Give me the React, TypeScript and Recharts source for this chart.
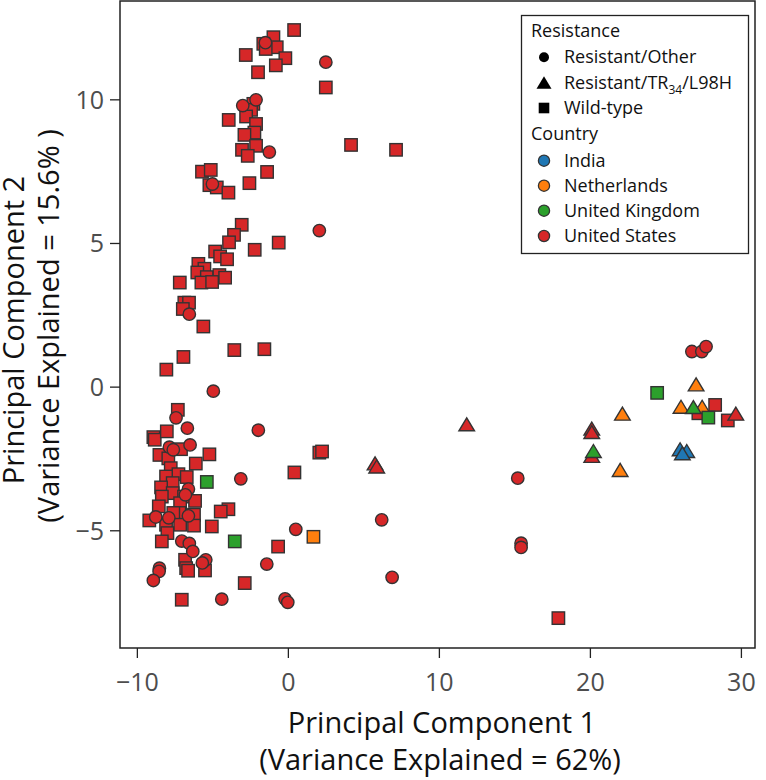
import React from 'react';
import { ScatterChart, Scatter, XAxis, YAxis, ReferenceArea } from 'recharts';

if (typeof document !== 'undefined') document.body.style.margin = '0';

const FONT = '"Open Sans", "DejaVu Sans", sans-serif';

// colours per country
const COLORS = {
  india: '#1f77b4',
  netherlands: '#ff7f0e',
  uk: '#2ca02c',
  us: '#d62728',
};

const xTicks = [-10, 0, 10, 20, 30];
const yTicks = [-5, 0, 5, 10];

// United States, wild-type (squares)
const usSquares = [
  { x: 0.38, y: 12.43 }, { x: -0.99, y: 12.18 }, { x: -1.66, y: 11.95 }, { x: -0.77, y: 11.83 },
  { x: -1.5, y: 11.77 }, { x: -2.82, y: 11.56 }, { x: -0.2, y: 11.45 }, { x: -0.83, y: 11.2 },
  { x: -2.01, y: 10.96 }, { x: 2.48, y: 10.43 }, { x: -2.32, y: 9.86 }, { x: -2.47, y: 9.65 },
  { x: -2.8, y: 9.42 }, { x: -3.95, y: 9.3 }, { x: -2.14, y: 9.16 }, { x: -2.25, y: 8.86 },
  { x: -2.91, y: 8.78 }, { x: -2.14, y: 8.4 }, { x: -3.07, y: 8.26 }, { x: -2.69, y: 8.05 },
  { x: -1.41, y: 7.49 }, { x: -5.72, y: 7.5 }, { x: -5.14, y: 7.56 }, { x: -5.23, y: 7.03 },
  { x: -4.74, y: 6.95 }, { x: -2.58, y: 7.1 }, { x: -3.97, y: 6.77 }, { x: 4.15, y: 8.43 },
  { x: 7.13, y: 8.26 },
  { x: -3.09, y: 5.65 }, { x: -3.6, y: 5.3 }, { x: -3.93, y: 5.04 }, { x: -2.23, y: 4.78 },
  { x: -0.64, y: 5.03 }, { x: -4.85, y: 4.72 }, { x: -4.52, y: 4.55 }, { x: -4.06, y: 4.45 },
  { x: -5.96, y: 4.29 }, { x: -5.56, y: 4.12 }, { x: -6.03, y: 3.99 }, { x: -5.4, y: 3.83 },
  { x: -4.57, y: 3.9 }, { x: -4.19, y: 3.81 }, { x: -5.76, y: 3.64 }, { x: -5.05, y: 3.66 },
  { x: -7.19, y: 3.64 }, { x: -6.89, y: 2.94 }, { x: -6.58, y: 2.94 }, { x: -6.99, y: 2.72 },
  { x: -5.63, y: 2.11 }, { x: -3.58, y: 1.29 }, { x: -1.59, y: 1.32 }, { x: -6.95, y: 1.05 },
  { x: -8.08, y: 0.61 },
  { x: -7.32, y: -0.79 }, { x: -8.94, y: -1.74 }, { x: -8.85, y: -1.83 }, { x: -8.05, y: -1.54 },
  { x: -7.11, y: -2.16 }, { x: -8.54, y: -2.36 }, { x: -7.95, y: -2.48 }, { x: -5.23, y: -2.34 },
  { x: 2.05, y: -2.28 }, { x: 2.23, y: -2.24 }, { x: -6.13, y: -2.66 }, { x: -7.79, y: -2.82 },
  { x: 0.4, y: -2.97 }, { x: -7.28, y: -3.03 }, { x: -8.1, y: -3.11 }, { x: -6.73, y: -3.13 },
  { x: -7.66, y: -3.34 }, { x: -8.43, y: -3.49 }, { x: -7.66, y: -3.69 }, { x: -8.38, y: -3.81 },
  { x: -6.91, y: -3.81 }, { x: -6.18, y: -3.96 }, { x: -8.58, y: -4.15 }, { x: -7.17, y: -4.04 },
  { x: -3.97, y: -4.25 }, { x: -4.48, y: -4.33 }, { x: -9.21, y: -4.64 }, { x: -7.22, y: -4.38 },
  { x: -7.62, y: -4.38 }, { x: -6.25, y: -4.44 }, { x: -8.1, y: -4.79 }, { x: -7.17, y: -4.79 },
  { x: -6.25, y: -4.82 }, { x: -5.07, y: -4.85 }, { x: -8.01, y: -5.08 }, { x: -8.38, y: -5.37 },
  { x: -0.68, y: -5.55 }, { x: -6.84, y: -6.01 }, { x: -6.77, y: -6.3 }, { x: -6.64, y: -6.39 },
  { x: -5.52, y: -6.38 }, { x: -2.89, y: -6.82 }, { x: -7.06, y: -7.4 }, { x: 17.88, y: -8.04 },
  { x: 28.26, y: -0.62 }, { x: 27.15, y: -0.91 }, { x: 29.1, y: -1.16 },
];

// United States, resistant/other (circles)
const usCircles = [
  { x: -1.52, y: 11.99 }, { x: 2.48, y: 11.31 }, { x: -2.14, y: 10.0 }, { x: -3.02, y: 9.8 },
  { x: -1.26, y: 8.18 }, { x: -5.03, y: 7.07 }, { x: 2.05, y: 5.45 }, { x: -6.56, y: 2.54 },
  { x: -4.97, y: -0.14 }, { x: -7.44, y: -1.07 }, { x: -6.69, y: -1.43 }, { x: -1.99, y: -1.5 },
  { x: -7.88, y: -2.09 }, { x: -6.51, y: -2.01 }, { x: -7.62, y: -2.18 }, { x: -3.15, y: -3.19 },
  { x: -6.62, y: -3.55 }, { x: -6.82, y: -3.75 }, { x: -8.78, y: -4.52 }, { x: -7.92, y: -4.55 },
  { x: -6.62, y: -4.48 }, { x: 0.49, y: -4.95 }, { x: -7.06, y: -5.36 }, { x: -6.56, y: -5.44 },
  { x: -6.33, y: -5.72 }, { x: -5.47, y: -6.01 }, { x: -5.7, y: -6.12 }, { x: -1.43, y: -6.16 },
  { x: -8.54, y: -6.3 }, { x: -8.56, y: -6.41 }, { x: -8.94, y: -6.73 }, { x: -4.41, y: -7.38 },
  { x: -0.22, y: -7.37 }, { x: -0.04, y: -7.49 }, { x: 6.18, y: -4.62 }, { x: 15.41, y: -5.43 },
  { x: 15.41, y: -5.58 }, { x: 6.87, y: -6.62 }, { x: 15.19, y: -3.17 }, { x: 26.72, y: 1.24 },
  { x: 27.38, y: 1.24 }, { x: 27.66, y: 1.41 },
];

// United States, TR34/L98H (triangles)
const usTriangles = [
  { x: 11.81, y: -1.31 }, { x: 20.09, y: -1.46 }, { x: 20.09, y: -1.58 }, { x: 20.09, y: -2.41 },
  { x: 5.74, y: -2.67 }, { x: 5.85, y: -2.78 }, { x: 29.63, y: -0.94 },
];

const nlTriangles = [
  { x: 27.0, y: 0.08 }, { x: 26.0, y: -0.7 }, { x: 27.4, y: -0.7 }, { x: 22.12, y: -0.94 },
  { x: 21.97, y: -2.9 },
];
const nlSquares = [{ x: 1.66, y: -5.21 }];

const ukSquares = [
  { x: -5.4, y: -3.3 }, { x: -3.55, y: -5.37 }, { x: 24.42, y: -0.2 }, { x: 27.81, y: -1.06 },
];
const ukTriangles = [{ x: 26.82, y: -0.71 }, { x: 20.2, y: -2.24 }];

const indiaTriangles = [{ x: 25.94, y: -2.18 }, { x: 26.38, y: -2.24 }, { x: 26.09, y: -2.32 }];

const EDGE = '#333';

const makeShape = (kind: string, fill: string) => (props: any) => {
  const { cx, cy } = props;
  if (cx == null || cy == null) return <g />;
  if (kind === 'circle') {
    return <circle cx={cx} cy={cy} r={6.2} fill={fill} stroke={EDGE} strokeWidth={1.4} />;
  }
  if (kind === 'square') {
    return <rect x={cx - 6.2} y={cy - 6.2} width={12.4} height={12.4} fill={fill} stroke={EDGE} strokeWidth={1.4} />;
  }
  return (
    <polygon
      points={`${cx},${cy - 7} ${cx + 7.8},${cy + 6} ${cx - 7.8},${cy + 6}`}
      fill={fill}
      stroke={EDGE}
      strokeWidth={1.4}
      strokeLinejoin="miter"
    />
  );
};

const fmt = (v: number) => (v < 0 ? `\u2212${Math.abs(v)}` : `${v}`);

const tickStyle = { fill: '#4d4d4d', fontSize: 25, fontFamily: FONT };

const Overlay = () => {
  const rowX = 544;
  const textX = 564;
  const base = [63.3, 88.7, 114, 166.7, 191.7, 216.7, 242];
  return (
    <svg
      width={766}
      height={780}
      style={{ position: 'absolute', left: 0, top: 0, pointerEvents: 'none' }}
      fontFamily={FONT}
    >
      {/* axis titles */}
      <text x={442} y={733} textAnchor="middle" fontSize={29} fill="#111">Principal Component 1</text>
      <text x={440} y={770} textAnchor="middle" fontSize={29} fill="#111">(Variance Explained = 62%)</text>
      <text x={24} y={330} textAnchor="middle" fontSize={29} fill="#111" transform="rotate(-90 24 330)">
        Principal Component 2
      </text>
      <text x={59} y={326} textAnchor="middle" fontSize={29} fill="#111" transform="rotate(-90 59 326)">
        (Variance Explained = 15.6% )
      </text>

      {/* legend */}
      <rect x={521.5} y={15.5} width={227} height={238} fill="#fff" stroke="#222" strokeWidth={1.3} />
      <g fontSize={18} fill="#111">
        <text x={531} y={36.7}>Resistance</text>
        <circle cx={rowX} cy={base[0] - 6} r={5} fill="#000" />
        <text x={textX} y={base[0]}>Resistant/Other</text>
        <polygon
          points={`${rowX},${base[1] - 12.5} ${rowX + 7.5},${base[1] + 0} ${rowX - 7.5},${base[1] + 0}`}
          fill="#000"
        />
        <text x={textX} y={base[1]}>
          Resistant/TR<tspan dy={5} fontSize={12}>34</tspan>
          <tspan dy={-5}>/L98H</tspan>
        </text>
        <rect x={rowX - 5.3} y={base[2] - 11.3} width={10.6} height={10.6} fill="#000" />
        <text x={textX} y={base[2]}>Wild-type</text>
        <text x={531} y={139.7}>Country</text>
        {[
          { c: COLORS.india, t: 'India' },
          { c: COLORS.netherlands, t: 'Netherlands' },
          { c: COLORS.uk, t: 'United Kingdom' },
          { c: COLORS.us, t: 'United States' },
        ].map((d, i) => (
          <g key={d.t}>
            <circle cx={rowX} cy={base[3 + i] - 6} r={5.6} fill={d.c} stroke={EDGE} strokeWidth={1.3} />
            <text x={textX} y={base[3 + i]}>{d.t}</text>
          </g>
        ))}
      </g>
    </svg>
  );
};

export default function App() {
  const xDomain: [number, number] = [-11.15, 30.9];
  const yDomain: [number, number] = [-9.08, 13.44];
  return (
    <div style={{ position: 'relative', width: 766, height: 780, background: '#fff' }}>
      <ScatterChart width={766} height={780} margin={{ top: 1, right: 11, bottom: 0, left: 0 }}>
        <XAxis
          type="number"
          dataKey="x"
          domain={xDomain}
          ticks={xTicks}
          allowDataOverflow
          height={132}
          axisLine={false}
          tickSize={10}
          tickMargin={15}
          tickLine={{ stroke: '#222', strokeWidth: 1.3 }}
          tick={tickStyle}
          tickFormatter={fmt}
        />
        <YAxis
          type="number"
          dataKey="y"
          domain={yDomain}
          ticks={yTicks}
          allowDataOverflow
          width={120}
          axisLine={false}
          tickSize={10}
          tickMargin={6}
          tickLine={{ stroke: '#222', strokeWidth: 1.3 }}
          tick={tickStyle}
          tickFormatter={fmt}
        />
        <ReferenceArea
          x1={xDomain[0]}
          x2={xDomain[1]}
          y1={yDomain[0]}
          y2={yDomain[1]}
          fill="none"
          fillOpacity={0}
          stroke="#222"
          strokeWidth={1.5}
        />
        <Scatter data={usSquares} shape={makeShape('square', COLORS.us)} isAnimationActive={false} />
        <Scatter data={usCircles} shape={makeShape('circle', COLORS.us)} isAnimationActive={false} />
        <Scatter data={usTriangles} shape={makeShape('triangle', COLORS.us)} isAnimationActive={false} />
        <Scatter data={nlSquares} shape={makeShape('square', COLORS.netherlands)} isAnimationActive={false} />
        <Scatter data={nlTriangles} shape={makeShape('triangle', COLORS.netherlands)} isAnimationActive={false} />
        <Scatter data={ukSquares} shape={makeShape('square', COLORS.uk)} isAnimationActive={false} />
        <Scatter data={ukTriangles} shape={makeShape('triangle', COLORS.uk)} isAnimationActive={false} />
        <Scatter data={indiaTriangles} shape={makeShape('triangle', COLORS.india)} isAnimationActive={false} />
      </ScatterChart>
      <Overlay />
    </div>
  );
}
